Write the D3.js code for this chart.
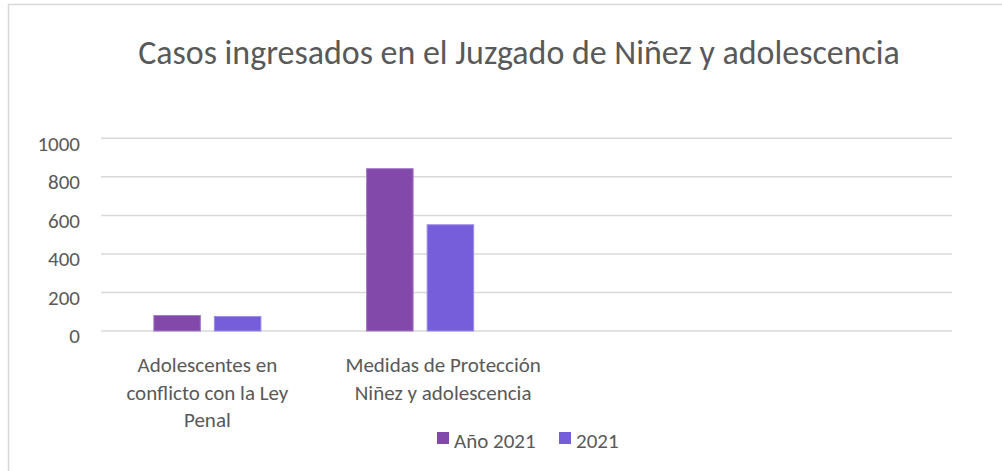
<!DOCTYPE html>
<html>
<head>
<meta charset="utf-8">
<script src="https://cdn.jsdelivr.net/npm/d3@7"></script>
<style>
  body { margin: 0; background: #fff; }
  text { font-family: Carlito, Lato, sans-serif; fill: #595959; }
</style>
</head>
<body>
<svg id="chart" width="1002" height="471"></svg>
<script>
// data
var title = "Casos ingresados en el Juzgado de Niñez y adolescencia";
var categoryLines = [
  ["Adolescentes en", "conflicto con la Ley", "Penal"],
  ["Medidas de Protección", "Niñez y adolescencia"],
  [],
  []
];
var seriesNames = ["Año 2021", "2021"];
var anio2021 = [83, 845, null, null];
var v2021 = [78, 554, null, null];
var yTicks = [0, 200, 400, 600, 800, 1000];

var colors = ["#8349aa", "#765dd9"];
var strokes = ["#a47bc9", "#9d8ee6"];
var fs = "21px";

var svg = d3.select("#chart");

// chart border (only top/left visible in the crop)
svg.append("rect")
  .attr("x", 8.5).attr("y", 4.5)
  .attr("width", 1100).attr("height", 600)
  .attr("fill", "none").attr("stroke", "#d9d9d9").attr("stroke-width", 1.5);

var plot = {left: 101, right: 952, top: 138.3, bottom: 331};

var x0 = d3.scaleBand()
  .domain(d3.range(categoryLines.length))
  .range([plot.left, plot.right]);

var bw = x0.bandwidth();
var x1 = d3.scaleBand()
  .domain(d3.range(seriesNames.length))
  .range([bw * 0.246, bw * 0.754])
  .paddingInner(0.215);

var y = d3.scaleLinear().domain([0, 1000]).range([plot.bottom, plot.top]);

// gridlines
svg.append("g").selectAll("line")
  .data(yTicks)
  .join("line")
  .attr("x1", plot.left).attr("x2", plot.right)
  .attr("y1", d => y(d)).attr("y2", d => y(d))
  .attr("stroke", "#d9d9d9").attr("stroke-width", 1.5);

// y axis labels
var yAxis = d3.axisLeft(y).tickValues(yTicks).tickFormat(d3.format("d")).tickSize(0).tickPadding(0);
var gy = svg.append("g").attr("transform", "translate(80,5)").call(yAxis);
gy.select(".domain").remove();
gy.selectAll("text")
  .style("font-family", "Carlito, Lato, sans-serif")
  .style("font-size", fs)
  .attr("fill", "#595959");

// bars
var series = [anio2021, v2021];
series.forEach(function (vals, s) {
  svg.append("g").selectAll("rect")
    .data(vals.map((v, i) => ({v: v, i: i})).filter(d => d.v != null))
    .join("rect")
    .attr("x", d => x0(d.i) + x1(s) + 0.5)
    .attr("width", x1.bandwidth() - 1)
    .attr("y", d => y(d.v) + 0.5)
    .attr("height", d => y(0) - y(d.v) - 0.5)
    .attr("fill", colors[s])
    .attr("stroke", strokes[s])
    .attr("stroke-width", 1);
});

// category labels
var labelShift = [0, 23, 0, 0];
var cats = svg.append("g").selectAll("text")
  .data(categoryLines)
  .join("text")
  .attr("text-anchor", "middle")
  .style("font-size", fs);
cats.each(function (lines, i) {
  var t = d3.select(this);
  lines.forEach(function (ln, k) {
    t.append("tspan")
      .attr("x", x0(i) + bw / 2 + labelShift[i])
      .attr("y", 372 + k * 27.5)
      .text(ln);
  });
});

// title, fitted to the width seen in the reference
var tt = svg.append("text")
  .attr("x", 519).attr("y", 64)
  .attr("text-anchor", "middle")
  .style("font-size", "30px")
  .text(title);
var w = tt.node().getComputedTextLength();
tt.style("font-size", (30 * 762 / w) + "px");

// legend
var legX = [437, 559];
var leg = svg.append("g").selectAll("g")
  .data(seriesNames)
  .join("g")
  .attr("transform", (d, i) => "translate(" + legX[i] + ",432)");
leg.append("rect")
  .attr("width", 12).attr("height", 12)
  .attr("fill", (d, i) => colors[i]);
leg.append("text")
  .attr("x", 17).attr("y", 16)
  .style("font-size", fs)
  .text(d => d);
</script>
</body>
</html>
